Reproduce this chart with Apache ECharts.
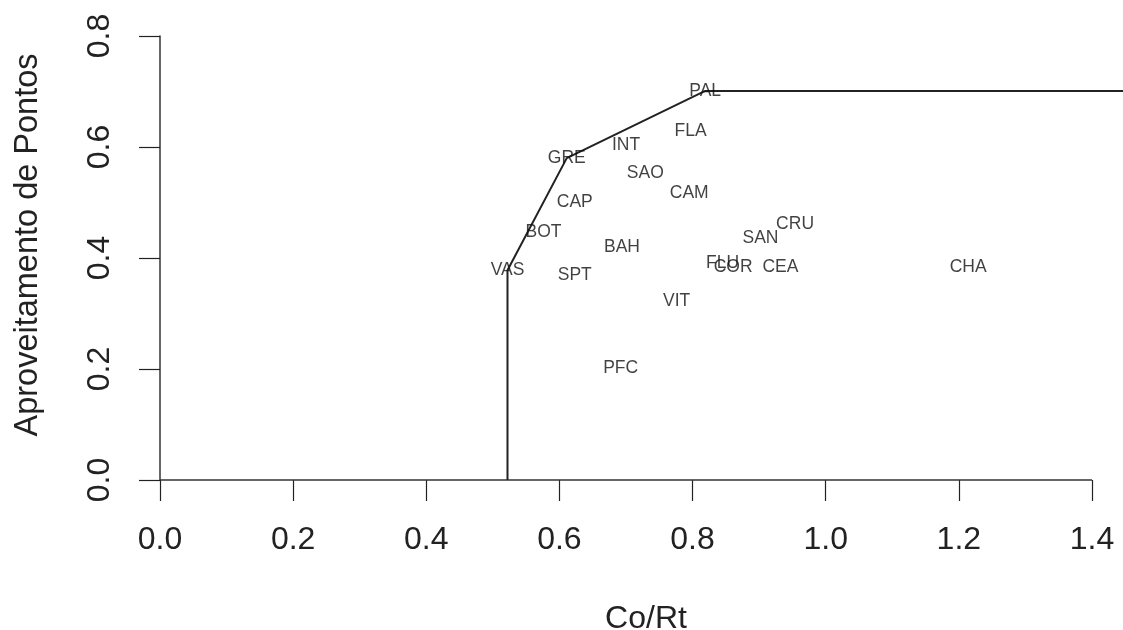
<!DOCTYPE html>
<html>
<head>
<meta charset="utf-8">
<script src="https://cdn.jsdelivr.net/npm/echarts@6/dist/echarts.min.js"></script>
<style>
  html, body { margin: 0; padding: 0; background: #fff; }
  #chart { width: 1123px; height: 630px; }
</style>
</head>
<body>
<div id="chart"></div>
<script>
// ---- data ----
var teams = ['PAL','FLA','INT','GRE','SAO','CAM','CAP','CRU','BOT','SAN','BAH','FLU','COR','CEA','CHA','VAS','SPT','VIT','PFC'];
var coRt  = [0.819,0.797,0.700,0.611,0.729,0.795,0.623,0.954,0.576,0.902,0.694,0.845,0.861,0.932,1.214,0.522,0.623,0.776,0.692];
var aprov = [0.701,0.628,0.604,0.580,0.553,0.517,0.501,0.461,0.447,0.435,0.419,0.390,0.384,0.384,0.384,0.378,0.369,0.323,0.201];
var frontierTeams = ['VAS','GRE','PAL'];
var xTicks = [0, 0.2, 0.4, 0.6, 0.8, 1.0, 1.2, 1.4];
var yTicks = [0, 0.2, 0.4, 0.6, 0.8];
var xMax = 1.4466;                 // right edge of the plotting region

var points = teams.map(function (t, i) { return { name: t, value: [coRt[i], aprov[i]] }; });

// efficient frontier: down to y=0 at the first team, horizontal to the plot edge after the last
var frontier = [];
frontierTeams.forEach(function (t, k) {
  var i = teams.indexOf(t);
  if (k === 0) frontier.push([coRt[i], yTicks[0]]);
  frontier.push([coRt[i], aprov[i]]);
  if (k === frontierTeams.length - 1) frontier.push([xMax, aprov[i]]);
});

// R-style x axis line: only between first and last tick
var xAxisLine = [[xTicks[0], yTicks[0]], [xTicks[xTicks.length - 1], yTicks[0]]];

var FONT = 'Liberation Sans, Arial, Helvetica, sans-serif';
var fmt = function (v) { return Number(v).toFixed(1); };
var chart = echarts.init(document.getElementById('chart'), null, { renderer: 'canvas' });
chart.setOption({
  animation: false,
  backgroundColor: '#ffffff',
  grid: { left: 160, right: 0, top: 36, bottom: 150, containLabel: false, outerBoundsMode: 'none' },
  xAxis: {
    type: 'value',
    min: 0, max: xMax,
    name: 'Co/Rt',
    nameLocation: 'middle',
    nameGap: 123,
    nameTextStyle: { fontFamily: FONT, fontSize: 32, color: '#222', padding: [0, 0, 0, 9] },
    axisLine: { show: false },
    axisTick: { show: true, inside: false, length: 21, customValues: xTicks,
      lineStyle: { color: '#222', width: 1.2 } },
    axisLabel: { fontFamily: FONT, fontSize: 32, color: '#222', margin: 44,
      customValues: xTicks, formatter: fmt },
    splitLine: { show: false }
  },
  yAxis: {
    type: 'value',
    min: yTicks[0], max: yTicks[yTicks.length - 1], interval: 0.2,
    name: 'Aproveitamento de Pontos',
    nameLocation: 'middle',
    nameGap: 115,
    nameRotate: 90,
    nameTextStyle: { fontFamily: FONT, fontSize: 32.5, color: '#222', padding: [0, 0, 0, 26] },
    axisLine: { show: true, onZero: false, lineStyle: { color: '#333', width: 1.5 } },
    axisTick: { show: true, inside: false, length: 21, lineStyle: { color: '#222', width: 1.2 } },
    axisLabel: { fontFamily: FONT, fontSize: 32, color: '#222', margin: 44, rotate: 90,
      formatter: fmt },
    splitLine: { show: false }
  },
  series: [
    {
      type: 'line',
      data: xAxisLine,
      symbol: 'none',
      clip: false,
      silent: true,
      lineStyle: { color: '#333', width: 1.5 },
      z: 1
    },
    {
      type: 'line',
      data: frontier,
      symbol: 'none',
      lineStyle: { color: '#222', width: 2 },
      z: 2
    },
    {
      type: 'scatter',
      data: points,
      symbolSize: 1,
      itemStyle: { color: 'rgba(0,0,0,0)' },
      label: {
        show: true,
        position: 'inside',
        formatter: '{b}',
        fontFamily: FONT,
        fontSize: 17.5,
        color: '#111',
        textBorderWidth: 0,
        textBorderColor: 'transparent'
      },
      z: 3
    }
  ]
});
</script>
</body>
</html>
